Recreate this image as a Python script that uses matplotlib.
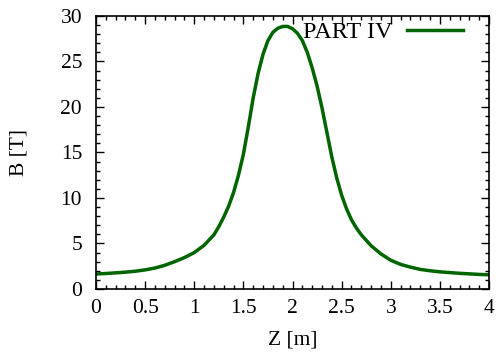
import numpy as np
import matplotlib
matplotlib.use("Agg")
import matplotlib.pyplot as plt
from matplotlib.ticker import MultipleLocator

z = [0.0, 0.1, 0.2, 0.3, 0.4, 0.5, 0.6, 0.7, 0.8, 0.9, 1.0, 1.1, 1.2, 1.25,
     1.3, 1.35, 1.4, 1.45, 1.5, 1.55, 1.6, 1.65, 1.7, 1.75, 1.8, 1.85, 1.9,
     1.95, 2.0, 2.05, 2.1, 2.15, 2.2, 2.25, 2.3, 2.35, 2.4, 2.45, 2.5, 2.55,
     2.6, 2.65, 2.7, 2.8, 2.9, 3.0, 3.1, 3.2, 3.3, 3.4, 3.5, 3.6, 3.7, 3.8, 3.9, 4.0]
b = [1.65, 1.7, 1.77, 1.85, 1.95, 2.1, 2.3, 2.6, 3.0, 3.45, 4.0, 4.8, 5.95, 6.85,
     7.9, 9.1, 10.6, 12.5, 14.8, 17.8, 21.0, 23.7, 25.8, 27.3, 28.2, 28.65, 28.85,
     28.85, 28.6, 28.1, 27.3, 26.0, 24.3, 22.3, 19.9, 17.2, 14.5, 12.2, 10.3, 8.8,
     7.6, 6.7, 5.95, 4.75, 3.85, 3.15, 2.7, 2.4, 2.15, 2.0, 1.88, 1.8, 1.72, 1.66, 1.6, 1.56]

plt.rcParams['font.family'] = ['Liberation Serif', 'DejaVu Serif']
plt.rcParams['font.size'] = 15.5

fig = plt.figure(figsize=(4.96, 3.55), dpi=100)
ax = fig.add_axes([0.1935, 0.186, 0.7925, 0.769])
ax.plot(z, b, color='#006400', lw=2.5, label='PART IV')

ax.set_xlim(0, 4)
ax.set_ylim(0, 30)
ax.xaxis.set_major_locator(MultipleLocator(0.5))
ax.xaxis.set_minor_locator(MultipleLocator(0.1))
ax.yaxis.set_major_locator(MultipleLocator(5))
ax.yaxis.set_minor_locator(MultipleLocator(1))
ax.xaxis.set_major_formatter(plt.FuncFormatter(lambda v, p: f'{v:g}'))
ax.tick_params(which='both', direction='in', top=True, right=True, width=1)
ax.tick_params(which='major', length=6)
ax.tick_params(axis='x', which='major', pad=7)
ax.tick_params(axis='y', which='major', pad=10)
ax.tick_params(which='minor', length=3)
for s in ax.spines.values():
    s.set_linewidth(1.2)

ax.set_xlabel('Z [m]', labelpad=9)
ax.set_ylabel('B [T]', labelpad=23)

ax.legend(loc='upper right', bbox_to_anchor=(0.965, 1.025), frameon=False,
          markerfirst=False, handlelength=2.3, handletextpad=0.6,
          fontsize=17.5, borderaxespad=0.1)

fig.savefig('out.png', dpi=100)
